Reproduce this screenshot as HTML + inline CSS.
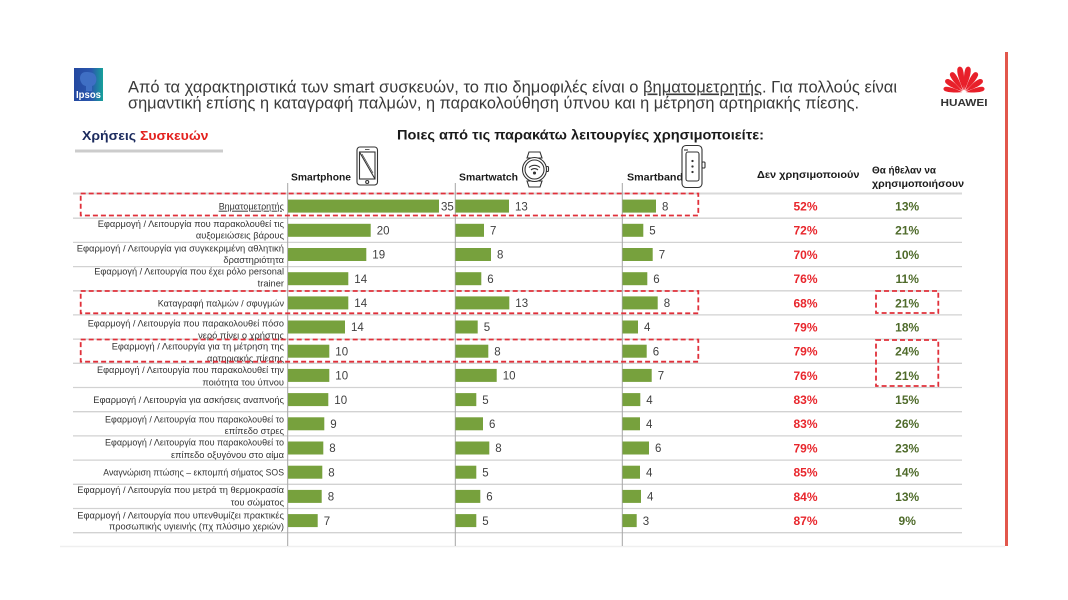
<!DOCTYPE html>
<html>
<head>
<meta charset="utf-8">
<style>
  html,body{margin:0;padding:0;background:#fff;}
  svg{display:block;}
  text{font-family:"Liberation Sans","DejaVu Sans",sans-serif;}
</style>
</head>
<body>
<svg width="1068" height="600" viewBox="0 0 1068 600" xmlns="http://www.w3.org/2000/svg">
  <rect x="0" y="0" width="1068" height="600" fill="#ffffff"/>

  <!-- faint slide bottom edge -->
  <line x1="60" y1="546.5" x2="1005" y2="546.5" stroke="#efefef" stroke-width="1.5"/>
  <!-- red vertical line -->
  <rect x="1005" y="52" width="3" height="494" fill="#e2574c"/>

  <!-- Ipsos logo -->
  <defs>
    <linearGradient id="ipg" x1="0" y1="0" x2="1" y2="0">
      <stop offset="0" stop-color="#2448a0"/>
      <stop offset="0.6" stop-color="#2a57ad"/>
      <stop offset="1" stop-color="#16a19a"/>
    </linearGradient>
  </defs>
  <rect x="74" y="68" width="29" height="33" fill="url(#ipg)"/>
  <path d="M86,72 C80,72 79,78 81,82 C82,85 85,86 86,86 L86,91 L92,91 L92,86 C96,85 97,80 96,77 C95,73 91,72 86,72 Z" fill="#3f6fc4"/>
  <text x="76" y="98" font-size="10" font-weight="bold" fill="#ffffff" textLength="25" lengthAdjust="spacingAndGlyphs">Ipsos</text>

  <!-- Huawei logo -->
  <g fill="#e8202a" transform="translate(964,92.5)">
    <path d="M0,-2 C-1.8,-9 -4,-19 -2.6,-24 C-1.6,-27 1.6,-27 2.6,-24 C4,-19 1.8,-9 0,-2 Z" transform="rotate(-10)"/>
    <path d="M0,-2 C-1.8,-9 -4,-19 -2.6,-24 C-1.6,-27 1.6,-27 2.6,-24 C4,-19 1.8,-9 0,-2 Z" transform="rotate(10)"/>
    <path d="M0,-2 C-1.8,-8 -3.8,-17 -2.5,-22 C-1.5,-24.5 1.5,-24.5 2.5,-22 C3.8,-17 1.8,-8 0,-2 Z" transform="rotate(-33)"/>
    <path d="M0,-2 C-1.8,-8 -3.8,-17 -2.5,-22 C-1.5,-24.5 1.5,-24.5 2.5,-22 C3.8,-17 1.8,-8 0,-2 Z" transform="rotate(33)"/>
    <path d="M0,-2 C-1.8,-8 -3.6,-16 -2.4,-20.5 C-1.4,-23 1.4,-23 2.4,-20.5 C3.6,-16 1.8,-8 0,-2 Z" transform="rotate(-56)"/>
    <path d="M0,-2 C-1.8,-8 -3.6,-16 -2.4,-20.5 C-1.4,-23 1.4,-23 2.4,-20.5 C3.6,-16 1.8,-8 0,-2 Z" transform="rotate(56)"/>
    <path d="M0,-2 C-1.6,-7 -3.2,-15 -2.2,-19 C-1.3,-21.5 1.3,-21.5 2.2,-19 C3.2,-15 1.6,-7 0,-2 Z" transform="rotate(-79)"/>
    <path d="M0,-2 C-1.6,-7 -3.2,-15 -2.2,-19 C-1.3,-21.5 1.3,-21.5 2.2,-19 C3.2,-15 1.6,-7 0,-2 Z" transform="rotate(79)"/>
  </g>
  <text x="964" y="106" font-size="10.5" font-weight="bold" fill="#333" text-anchor="middle" textLength="47" lengthAdjust="spacingAndGlyphs">HUAWEI</text>

  <!-- Title -->
  <text x="128" y="92.5" font-size="16.5" fill="#3a3a3a" textLength="769" lengthAdjust="spacingAndGlyphs">Από τα χαρακτηριστικά των smart συσκευών, το πιο δημοφιλές είναι ο <tspan text-decoration="underline">βηματομετρητής</tspan>. Για πολλούς είναι</text>
  <text x="128" y="108.5" font-size="16.5" fill="#3a3a3a" textLength="731" lengthAdjust="spacingAndGlyphs">σημαντική επίσης η καταγραφή παλμών, η παρακολούθηση ύπνου και η μέτρηση αρτηριακής πίεσης.</text>

  <!-- Section title -->
  <text x="82" y="140" font-size="13" font-weight="bold" fill="#1c2b5e" textLength="126.5" lengthAdjust="spacingAndGlyphs">Χρήσεις <tspan fill="#e3221f">Συσκευών</tspan></text>
  <rect x="75" y="149.5" width="148" height="3" fill="#cccccc"/>

  <!-- Subtitle -->
  <text x="397" y="139.5" font-size="14" font-weight="bold" fill="#1a1a1a" textLength="367" lengthAdjust="spacingAndGlyphs">Ποιες από τις παρακάτω λειτουργίες χρησιμοποιείτε:</text>

  <!-- Column headers -->
  <text x="291" y="180.5" font-size="10.5" font-weight="bold" fill="#1a1a1a" textLength="60" lengthAdjust="spacingAndGlyphs">Smartphone</text>
  <text x="459" y="180.5" font-size="10.5" font-weight="bold" fill="#1a1a1a" textLength="59" lengthAdjust="spacingAndGlyphs">Smartwatch</text>
  <text x="627" y="180.5" font-size="10.5" font-weight="bold" fill="#1a1a1a" textLength="56" lengthAdjust="spacingAndGlyphs">Smartband</text>
  <text x="757" y="178" font-size="10.5" font-weight="bold" fill="#1a1a1a" textLength="102.5" lengthAdjust="spacingAndGlyphs">Δεν χρησιμοποιούν</text>
  <text x="872" y="173.5" font-size="10.5" font-weight="bold" fill="#1a1a1a" textLength="64" lengthAdjust="spacingAndGlyphs">Θα ήθελαν να</text>
  <text x="872" y="187" font-size="10.5" font-weight="bold" fill="#1a1a1a" textLength="92" lengthAdjust="spacingAndGlyphs">χρησιμοποιήσουν</text>

  <!-- Phone icon -->
  <g fill="none" stroke="#333" stroke-width="1.1">
    <rect x="357" y="147" width="20.5" height="38" rx="3"/>
    <rect x="359.5" y="152" width="15.5" height="27"/>
    <line x1="359.5" y1="152" x2="375" y2="179"/>
    <line x1="362" y1="154" x2="373" y2="173" stroke-width="0.7"/>
    <circle cx="367.2" cy="182" r="1.5"/>
    <line x1="365" y1="149.5" x2="369.5" y2="149.5" stroke-width="0.8"/>
  </g>
  <!-- Watch icon -->
  <g fill="#fff" stroke="#333" stroke-width="1.1">
    <path d="M527,158 L529,152 L540,152 L542,158 Z"/>
    <path d="M527,181 L529,187 L540,187 L542,181 Z"/>
    <rect x="545.5" y="166.5" width="3" height="5" rx="1"/>
    <circle cx="534.5" cy="169.5" r="12"/>
    <circle cx="534.5" cy="169.5" r="9.5"/>
    <path d="M529,167.5 A8,8 0 0 1 540,167.5" fill="none"/>
    <path d="M531,170 A5,5 0 0 1 538,170" fill="none"/>
    <circle cx="534.5" cy="173" r="1" fill="#333"/>
  </g>
  <!-- Band icon -->
  <g fill="#fff" stroke="#333" stroke-width="1.1">
    <rect x="682" y="145.5" width="20" height="42" rx="4"/>
    <rect x="686" y="152" width="13" height="29" rx="2"/>
    <rect x="702" y="162" width="3" height="6" rx="1"/>
    <line x1="684" y1="150" x2="688" y2="150"/>
    <circle cx="692.5" cy="161" r="0.6" fill="#333"/>
    <circle cx="692.5" cy="166.5" r="0.6" fill="#333"/>
    <circle cx="692.5" cy="172" r="0.6" fill="#333"/>
  </g>

  <!-- Header line and row separators -->
  <line x1="73" y1="193.5" x2="962" y2="193.5" stroke="#d9d9d9" stroke-width="2"/>
  <g stroke="#d2d2d2" stroke-width="1.3">
    <line x1="73" y1="218.2" x2="962" y2="218.2"/>
    <line x1="73" y1="242.4" x2="962" y2="242.4"/>
    <line x1="73" y1="266.6" x2="962" y2="266.6"/>
    <line x1="73" y1="290.8" x2="962" y2="290.8"/>
    <line x1="73" y1="314.9" x2="962" y2="314.9"/>
    <line x1="73" y1="339.1" x2="962" y2="339.1"/>
    <line x1="73" y1="363.3" x2="962" y2="363.3"/>
    <line x1="73" y1="387.5" x2="962" y2="387.5"/>
    <line x1="73" y1="411.7" x2="962" y2="411.7"/>
    <line x1="73" y1="435.9" x2="962" y2="435.9"/>
    <line x1="73" y1="460.1" x2="962" y2="460.1"/>
    <line x1="73" y1="484.3" x2="962" y2="484.3"/>
    <line x1="73" y1="508.5" x2="962" y2="508.5"/>
    <line x1="73" y1="532.7" x2="962" y2="532.7"/>
  </g>

  <!-- Axis lines -->
  <g stroke="#a5a5a5" stroke-width="1">
    <line x1="287.7" y1="183" x2="287.7" y2="546"/>
    <line x1="455.3" y1="183" x2="455.3" y2="546"/>
    <line x1="622.3" y1="183" x2="622.3" y2="546"/>
  </g>

  <!-- Bars -->
  <g fill="#77a13d">
    <rect x="288" y="199.6" width="151" height="13"/>
    <rect x="288" y="223.8" width="82.7" height="13"/>
    <rect x="288" y="248" width="78.3" height="13"/>
    <rect x="288" y="272.2" width="60.3" height="13"/>
    <rect x="288" y="296.4" width="60.3" height="13"/>
    <rect x="288" y="320.5" width="57" height="13"/>
    <rect x="288" y="344.7" width="41.3" height="13"/>
    <rect x="288" y="368.9" width="41.3" height="13"/>
    <rect x="288" y="393.1" width="40.3" height="13"/>
    <rect x="288" y="417.3" width="36.3" height="13"/>
    <rect x="288" y="441.5" width="35.3" height="13"/>
    <rect x="288" y="465.7" width="34.3" height="13"/>
    <rect x="288" y="489.9" width="33.7" height="13"/>
    <rect x="288" y="514.1" width="29.7" height="13"/>

    <rect x="455.5" y="199.6" width="53.5" height="13"/>
    <rect x="455.5" y="223.8" width="28.5" height="13"/>
    <rect x="455.5" y="248" width="35.5" height="13"/>
    <rect x="455.5" y="272.2" width="25.8" height="13"/>
    <rect x="455.5" y="296.4" width="53.8" height="13"/>
    <rect x="455.5" y="320.5" width="22.2" height="13"/>
    <rect x="455.5" y="344.7" width="32.8" height="13"/>
    <rect x="455.5" y="368.9" width="41.2" height="13"/>
    <rect x="455.5" y="393.1" width="20.8" height="13"/>
    <rect x="455.5" y="417.3" width="27.5" height="13"/>
    <rect x="455.5" y="441.5" width="33.8" height="13"/>
    <rect x="455.5" y="465.7" width="20.8" height="13"/>
    <rect x="455.5" y="489.9" width="24.8" height="13"/>
    <rect x="455.5" y="514.1" width="20.8" height="13"/>

    <rect x="622.5" y="199.6" width="33.5" height="13"/>
    <rect x="622.5" y="223.8" width="20.8" height="13"/>
    <rect x="622.5" y="248" width="30.2" height="13"/>
    <rect x="622.5" y="272.2" width="24.8" height="13"/>
    <rect x="622.5" y="296.4" width="35.2" height="13"/>
    <rect x="622.5" y="320.5" width="15.5" height="13"/>
    <rect x="622.5" y="344.7" width="24.2" height="13"/>
    <rect x="622.5" y="368.9" width="29.2" height="13"/>
    <rect x="622.5" y="393.1" width="17.8" height="13"/>
    <rect x="622.5" y="417.3" width="17.5" height="13"/>
    <rect x="622.5" y="441.5" width="26.5" height="13"/>
    <rect x="622.5" y="465.7" width="17.5" height="13"/>
    <rect x="622.5" y="489.9" width="18.5" height="13"/>
    <rect x="622.5" y="514.1" width="14.2" height="13"/>
  </g>

  <!-- Bar value labels -->
  <g font-size="11.5" fill="#404040">
    <text x="441" y="210.3">35</text>
    <text x="376.7" y="234.5">20</text>
    <text x="372.3" y="258.7">19</text>
    <text x="354.3" y="282.9">14</text>
    <text x="354.3" y="307.1">14</text>
    <text x="351" y="331.2">14</text>
    <text x="335.3" y="355.4">10</text>
    <text x="335.3" y="379.6">10</text>
    <text x="334.3" y="403.8">10</text>
    <text x="330.3" y="428">9</text>
    <text x="329.3" y="452.2">8</text>
    <text x="328.3" y="476.4">8</text>
    <text x="327.7" y="500.6">8</text>
    <text x="323.7" y="524.8">7</text>

    <text x="515" y="210.3">13</text>
    <text x="490" y="234.5">7</text>
    <text x="497" y="258.7">8</text>
    <text x="487.3" y="282.9">6</text>
    <text x="515.3" y="307.1">13</text>
    <text x="483.7" y="331.2">5</text>
    <text x="494.3" y="355.4">8</text>
    <text x="502.7" y="379.6">10</text>
    <text x="482.3" y="403.8">5</text>
    <text x="489" y="428">6</text>
    <text x="495.3" y="452.2">8</text>
    <text x="482.3" y="476.4">5</text>
    <text x="486.3" y="500.6">6</text>
    <text x="482.3" y="524.8">5</text>

    <text x="662" y="210.3">8</text>
    <text x="649.3" y="234.5">5</text>
    <text x="658.7" y="258.7">7</text>
    <text x="653.3" y="282.9">6</text>
    <text x="663.7" y="307.1">8</text>
    <text x="644" y="331.2">4</text>
    <text x="652.7" y="355.4">6</text>
    <text x="657.7" y="379.6">7</text>
    <text x="646.3" y="403.8">4</text>
    <text x="646" y="428">4</text>
    <text x="655" y="452.2">6</text>
    <text x="646" y="476.4">4</text>
    <text x="647" y="500.6">4</text>
    <text x="642.7" y="524.8">3</text>
  </g>

  <!-- Row labels -->
  <g font-size="9.6" fill="#333333" text-anchor="end">
    <text x="284" y="209.7" textLength="65.3" lengthAdjust="spacingAndGlyphs" text-decoration="underline">Βηματομετρητής</text>
    <text x="284" y="227" textLength="186.3" lengthAdjust="spacingAndGlyphs">Εφαρμογή / Λειτουργία που παρακολουθεί τις</text>
    <text x="284" y="238.7" font-size="9.3">αυξομειώσεις βάρους</text>
    <text x="284" y="251.3" textLength="207.3" lengthAdjust="spacingAndGlyphs">Εφαρμογή / Λειτουργία για συγκεκριμένη αθλητική</text>
    <text x="284" y="263" font-size="9.3">δραστηριότητα</text>
    <text x="284" y="274.7" textLength="189.7" lengthAdjust="spacingAndGlyphs">Εφαρμογή / Λειτουργία που έχει ρόλο personal</text>
    <text x="284" y="286.3" font-size="9.3">trainer</text>
    <text x="284" y="306.3" textLength="126.3" lengthAdjust="spacingAndGlyphs">Καταγραφή παλμών / σφυγμών</text>
    <text x="284" y="326.3" textLength="196.3" lengthAdjust="spacingAndGlyphs">Εφαρμογή / Λειτουργία που παρακολουθεί πόσο</text>
    <text x="284" y="338.7" font-size="9.3">νερό πίνει ο χρήστης</text>
    <text x="284" y="349.7" textLength="172.3" lengthAdjust="spacingAndGlyphs">Εφαρμογή / Λειτουργία για τη μέτρηση της</text>
    <text x="284" y="361.3" font-size="9.3">αρτηριακής πίεσης</text>
    <text x="284" y="372.8" textLength="187" lengthAdjust="spacingAndGlyphs">Εφαρμογή / Λειτουργία που παρακολουθεί την</text>
    <text x="284" y="385.5" font-size="9.3">ποιότητα του ύπνου</text>
    <text x="284" y="403" textLength="190.7" lengthAdjust="spacingAndGlyphs">Εφαρμογή / Λειτουργία για ασκήσεις αναπνοής</text>
    <text x="284" y="422.3" textLength="179" lengthAdjust="spacingAndGlyphs">Εφαρμογή / Λειτουργία που παρακολουθεί το</text>
    <text x="284" y="434" font-size="9.3">επίπεδο στρες</text>
    <text x="284" y="445.7" textLength="179" lengthAdjust="spacingAndGlyphs">Εφαρμογή / Λειτουργία που παρακολουθεί το</text>
    <text x="284" y="458" font-size="9.3">επίπεδο οξυγόνου στο αίμα</text>
    <text x="284" y="475.7" textLength="180.7" lengthAdjust="spacingAndGlyphs">Αναγνώριση πτώσης – εκπομπή σήματος SOS</text>
    <text x="284" y="493" textLength="206.7" lengthAdjust="spacingAndGlyphs">Εφαρμογή / Λειτουργία που μετρά τη θερμοκρασία</text>
    <text x="284" y="505.7" font-size="9.3">του σώματος</text>
    <text x="284" y="518.7" textLength="206.7" lengthAdjust="spacingAndGlyphs">Εφαρμογή / Λειτουργία που υπενθυμίζει πρακτικές</text>
    <text x="284" y="529.7" font-size="9.3">προσωπικής υγιεινής (πχ πλύσιμο χεριών)</text>
  </g>

  <!-- Percent columns -->
  <g font-size="12" font-weight="bold" text-anchor="middle" fill="#e8262c">
    <text x="805.5" y="210.5">52%</text>
    <text x="805.5" y="234.7">72%</text>
    <text x="805.5" y="258.9">70%</text>
    <text x="805.5" y="283.1">76%</text>
    <text x="805.5" y="307.3">68%</text>
    <text x="805.5" y="331.4">79%</text>
    <text x="805.5" y="355.6">79%</text>
    <text x="805.5" y="379.8">76%</text>
    <text x="805.5" y="404">83%</text>
    <text x="805.5" y="428.2">83%</text>
    <text x="805.5" y="452.4">79%</text>
    <text x="805.5" y="476.6">85%</text>
    <text x="805.5" y="500.8">84%</text>
    <text x="805.5" y="525">87%</text>
  </g>
  <g font-size="12" font-weight="bold" text-anchor="middle" fill="#4f6b2b">
    <text x="907.2" y="210.5">13%</text>
    <text x="907.2" y="234.7">21%</text>
    <text x="907.2" y="258.9">10%</text>
    <text x="907.2" y="283.1">11%</text>
    <text x="907.2" y="307.3">21%</text>
    <text x="907.2" y="331.4">18%</text>
    <text x="907.2" y="355.6">24%</text>
    <text x="907.2" y="379.8">21%</text>
    <text x="907.2" y="404">15%</text>
    <text x="907.2" y="428.2">26%</text>
    <text x="907.2" y="452.4">23%</text>
    <text x="907.2" y="476.6">14%</text>
    <text x="907.2" y="500.8">13%</text>
    <text x="907.2" y="525">9%</text>
  </g>

  <!-- Dashed highlight boxes -->
  <g fill="none" stroke="#e0303a" stroke-width="1.8" stroke-dasharray="5 3">
    <rect x="80.7" y="193.5" width="617.6" height="22"/>
    <rect x="80.7" y="291" width="617.6" height="22.3"/>
    <rect x="80.7" y="339.5" width="617.6" height="22.2"/>
    <rect x="876" y="291" width="62.3" height="22"/>
    <rect x="876" y="340" width="62.3" height="46"/>
  </g>
</svg>
</body>
</html>
